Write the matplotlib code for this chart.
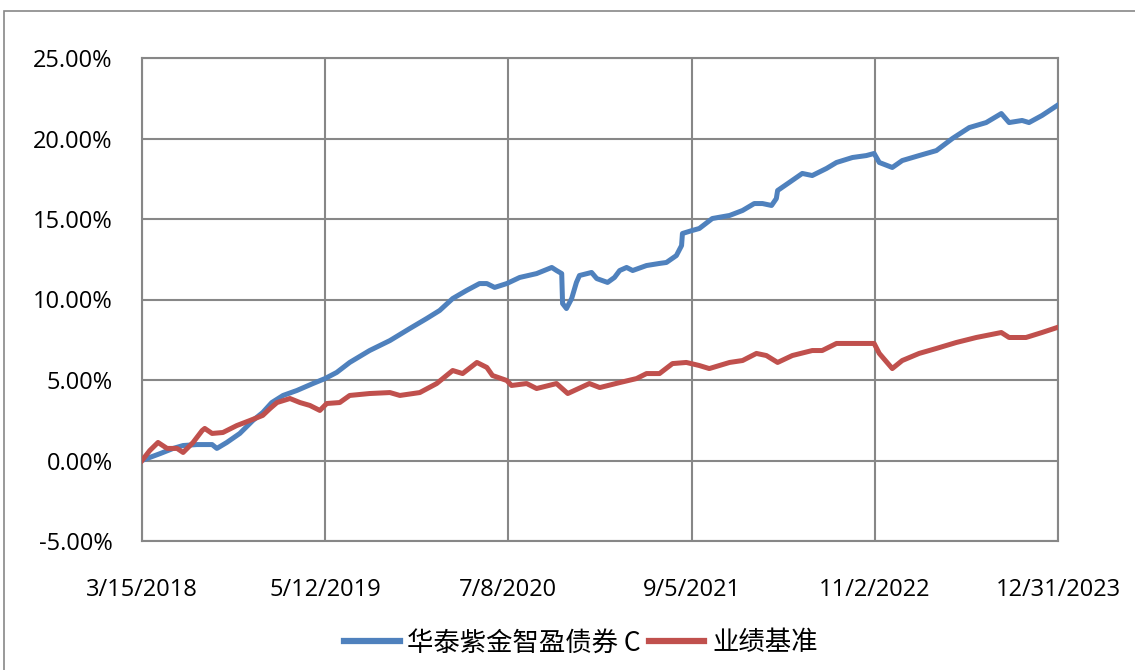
import matplotlib
matplotlib.use("Agg")
import matplotlib.pyplot as plt
import matplotlib.dates as mdates
from matplotlib.patches import Rectangle
import pandas as pd

# ---- data ----
start_date = "2018-03-15"
series_names = ["华泰紫金智盈债券 C", "业绩基准"]

fund_days = [0, 18, 42, 72, 95, 127, 162, 173, 196, 226, 256, 279, 300, 326, 358,
             395, 423, 450, 480, 526, 573, 619, 658, 688, 718, 750, 780, 797, 815,
             843, 873, 912, 947, 958, 970, 972, 981, 993, 1004, 1011, 1039, 1051,
             1076, 1092, 1104, 1120, 1134, 1166, 1196, 1212, 1235, 1247, 1249, 1272,
             1288, 1318, 1358, 1388, 1415, 1434, 1455, 1466, 1469, 1496, 1526, 1549,
             1582, 1605, 1642, 1674, 1692, 1704, 1734, 1757, 1796, 1836, 1873, 1912,
             1951, 1986, 2004, 2034, 2050, 2080, 2115]
fund_values = [0.00, 0.19, 0.43, 0.75, 0.93, 0.99, 0.99, 0.75, 1.12, 1.68, 2.48, 2.98,
               3.60, 4.04, 4.35, 4.78, 5.09, 5.47, 6.09, 6.83, 7.45, 8.20, 8.82, 9.32,
               10.06, 10.56, 10.99, 10.99, 10.75, 10.99, 11.37, 11.61, 11.99, 11.80,
               11.61, 9.75, 9.44, 10.06, 11.06, 11.49, 11.68, 11.30, 11.06, 11.37,
               11.80, 11.99, 11.80, 12.11, 12.24, 12.30, 12.73, 13.35, 14.10, 14.29,
               14.41, 15.03, 15.22, 15.53, 15.96, 15.96, 15.84, 16.27, 16.77, 17.27,
               17.83, 17.70, 18.14, 18.51, 18.82, 18.94, 19.07, 18.51, 18.20, 18.63,
               18.94, 19.25, 20.00, 20.68, 20.99, 21.55, 20.99, 21.12, 20.99, 21.43,
               22.05]

bench_days = [0, 18, 37, 58, 81, 95, 118, 139, 145, 162, 187, 219, 249, 279, 296,
              312, 342, 365, 388, 411, 427, 457, 480, 526, 573, 596, 642, 681, 718,
              741, 774, 797, 810, 843, 854, 889, 912, 958, 984, 1034, 1058, 1104,
              1143, 1166, 1196, 1226, 1258, 1288, 1311, 1358, 1388, 1420, 1443, 1469,
              1503, 1549, 1572, 1605, 1651, 1681, 1692, 1704, 1734, 1757, 1796, 1836,
              1882, 1928, 1986, 2004, 2043, 2080, 2115]
bench_values = [0.00, 0.62, 1.12, 0.75, 0.75, 0.50, 1.12, 1.86, 1.99, 1.68, 1.74,
                2.17, 2.48, 2.80, 3.23, 3.60, 3.85, 3.60, 3.42, 3.11, 3.54, 3.60,
                4.04, 4.16, 4.22, 4.04, 4.22, 4.78, 5.59, 5.40, 6.09, 5.78, 5.28,
                4.97, 4.66, 4.78, 4.47, 4.78, 4.16, 4.78, 4.53, 4.84, 5.09, 5.40,
                5.40, 6.02, 6.09, 5.90, 5.71, 6.09, 6.21, 6.65, 6.52, 6.09, 6.52,
                6.83, 6.83, 7.27, 7.27, 7.27, 7.27, 6.65, 5.71, 6.21, 6.65, 6.96,
                7.33, 7.64, 7.95, 7.64, 7.64, 7.95, 8.26]

x_tick_labels = ["3/15/2018", "5/12/2019", "7/8/2020", "9/5/2021", "11/2/2022", "12/31/2023"]
y_ticks = [-5, 0, 5, 10, 15, 20, 25]

# ---- figure ----
plt.rcParams['font.family'] = ['Open Sans', 'Noto Sans CJK SC', 'DejaVu Sans']

fig = plt.figure(figsize=(11.35, 6.70), dpi=100)
ax = fig.add_axes([142 / 1135, 1 - 541 / 670, (1058 - 142) / 1135, (541 - 58) / 670])

t0 = pd.Timestamp(start_date)
fund_dates = [t0 + pd.Timedelta(days=d) for d in fund_days]
bench_dates = [t0 + pd.Timedelta(days=d) for d in bench_days]

blue = "#4F81BD"
red = "#C0504D"
ax.plot(fund_dates, fund_values, color=blue, lw=3.6, solid_joinstyle="round", label=series_names[0], zorder=3)
ax.plot(bench_dates, bench_values, color=red, lw=3.6, solid_joinstyle="round", label=series_names[1], zorder=3)

tick_dates = pd.to_datetime(x_tick_labels, format="%m/%d/%Y")
ax.set_xticks(tick_dates)
ax.set_xticklabels(x_tick_labels)
ax.set_xlim(tick_dates[0], tick_dates[-1])

ax.set_yticks(y_ticks)
ax.set_yticklabels([f"{v:.2f}%" for v in y_ticks])
ax.set_ylim(y_ticks[0], y_ticks[-1])

grid_c = "#878787"
ax.grid(True, color=grid_c, lw=1.5, zorder=1)
ax.set_axisbelow(True)
for s in ax.spines.values():
    s.set_color(grid_c)
    s.set_linewidth(1.5)
ax.tick_params(axis="y", length=0, pad=21, labelsize=17, labelcolor="black")
ax.tick_params(axis="x", length=0, pad=27, labelsize=17, labelcolor="black")

leg = fig.legend(loc="center", bbox_to_anchor=(581 / 1135, 1 - 643 / 670), ncol=2,
                 frameon=False, fontsize=19, handlelength=2.1, handletextpad=0.3,
                 columnspacing=0.3, borderpad=0)
for line in leg.get_lines():
    line.set_linewidth(4.5)
for txt in leg.get_texts():
    txt.set_family(['Noto Sans CJK SC', 'DejaVu Sans'])

# chart-area border
fig.patches.append(Rectangle((4 / 1135, -0.02), 1.1, 1 - 11 / 670 + 0.02,
                             transform=fig.transFigure, fill=False,
                             edgecolor=grid_c, lw=1.2, clip_on=False))

fig.savefig("out.png", dpi=100, facecolor="white")
